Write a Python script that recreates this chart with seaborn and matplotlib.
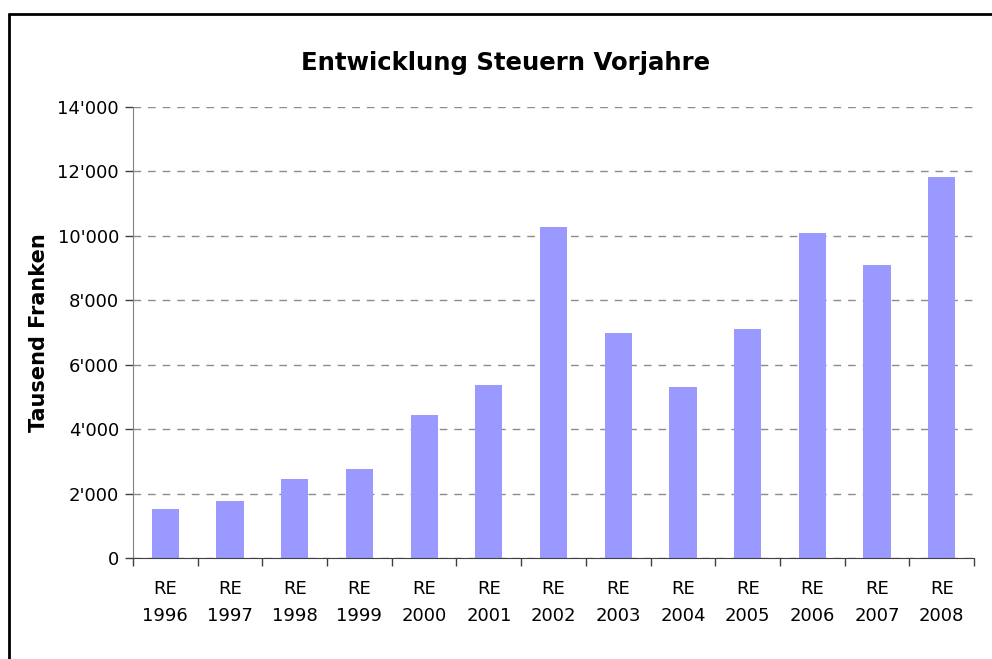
import numpy as np
import pandas as pd
import matplotlib
matplotlib.use("Agg")
import matplotlib.pyplot as plt
from matplotlib.lines import Line2D
from matplotlib.ticker import FuncFormatter, FixedLocator
import seaborn as sns


YEARS = ["1996", "1997", "1998", "1999", "2000", "2001", "2002",
         "2003", "2004", "2005", "2006", "2007", "2008"]
STEUERN = [1520, 1770, 2450, 2760, 4440, 5370, 10280,
           6990, 5310, 7110, 10090, 9100, 11830]
Y_TICKS = [0, 2000, 4000, 6000, 8000, 10000, 12000, 14000]

BAR_COLOR = "#9999FF"
AXIS_GRAY = "#808080"


def swiss_fmt(v, pos):
    v = int(round(v))
    if v < 1000:
        return str(v)
    return f"{v // 1000}'{v % 1000:03d}"


def main():
    sns.set_style("white")
    plt.rcParams["font.family"] = ["DejaVu Sans"]
    plt.rcParams["text.color"] = "black"
    plt.rcParams["xtick.color"] = "black"
    plt.rcParams["ytick.color"] = "black"
    plt.rcParams["axes.labelcolor"] = "black"

    df = pd.DataFrame({"jahr": ["RE\n" + y for y in YEARS], "wert": STEUERN})

    fig = plt.figure(figsize=(9.92, 6.59), dpi=100)
    ax = fig.add_axes([0.134, 0.153, 0.848, 0.685])

    sns.barplot(data=df, x="jahr", y="wert", color=BAR_COLOR, saturation=1,
                width=0.42, linewidth=0, ax=ax)

    ax.set_ylim(0, 14000)
    ax.set_xlim(-0.5, len(YEARS) - 0.5)
    ax.yaxis.set_major_locator(FixedLocator(Y_TICKS))
    ax.yaxis.set_major_formatter(FuncFormatter(swiss_fmt))
    ax.yaxis.grid(True, linestyle=(0, (5.5, 5)), color="#8c8c8c", linewidth=1)
    ax.set_axisbelow(True)

    # x ticks between categories like Excel
    ax.xaxis.set_minor_locator(FixedLocator(np.arange(-0.5, len(YEARS), 1.0)))
    ax.tick_params(axis="x", which="major", length=0, labelsize=13, pad=16)
    ax.tick_params(axis="x", which="minor", length=6, color="#404040",
                   width=1, direction="out", bottom=True)
    ax.tick_params(axis="y", which="major", length=6, color="#404040",
                   width=1, direction="out", left=True, labelsize=13, pad=4)
    for lbl in ax.get_xticklabels():
        lbl.set_linespacing(1.65)

    for side in ["top", "right"]:
        ax.spines[side].set_visible(False)
    ax.spines["left"].set_color(AXIS_GRAY)
    ax.spines["bottom"].set_color("#404040")

    ax.set_xlabel("")
    ax.set_ylabel("Tausend Franken", fontsize=15, fontweight="bold", labelpad=6)
    fig.text(0.51, 0.905, "Entwicklung Steuern Vorjahre", ha="center",
             va="center", fontsize=17.6, fontweight="bold")

    # chart frame (only top and left edges visible in the crop)
    fig.add_artist(Line2D([0.0095, 1.0], [0.9795, 0.9795], color="black",
                          linewidth=2, transform=fig.transFigure))
    fig.add_artist(Line2D([0.0095, 0.0095], [0.0, 0.9795], color="black",
                          linewidth=2, transform=fig.transFigure))

    fig.savefig("out.png", dpi=100)
    plt.close(fig)


if __name__ == "__main__":
    main()
